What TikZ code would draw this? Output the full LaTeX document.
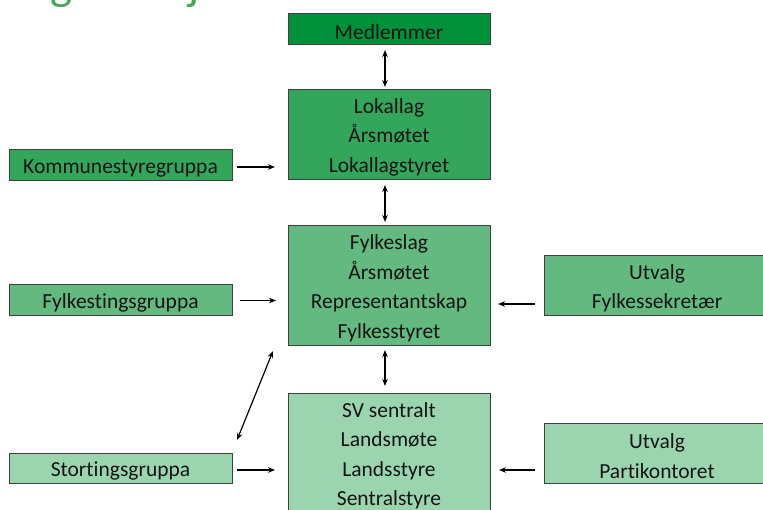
\documentclass[tikz,border=0pt]{standalone}
\usepackage{fontspec}
\setmainfont{Carlito}[Ligatures=NoCommon]
\usetikzlibrary{arrows.meta}
\definecolor{gA}{RGB}{0,145,58}
\definecolor{gB}{RGB}{52,166,92}
\definecolor{gC}{RGB}{99,185,127}
\definecolor{gD}{RGB}{155,213,175}
\definecolor{titlegreen}{RGB}{76,163,92}
\definecolor{edgegray}{RGB}{64,64,64}
\definecolor{ink}{RGB}{20,20,20}
\newcommand\lowertext{\rule{0pt}{21.5pt}}
\begin{document}
\begin{tikzpicture}[x=1pt,y=-1pt,
  box/.style={draw=edgegray,line width=1pt,inner sep=0pt,outer sep=0pt,align=center,
    font=\fontsize{21.5}{29.5}\selectfont,text=ink},
  tip/.tip={Stealth[length=7pt,width=5.5pt]},
  link/.style={line width=1.2pt,-tip},
  both/.style={line width=1.2pt,tip-tip}]
\useasboundingbox (0,0) rectangle (763,509);
\clip (0,0) rectangle (763,509);
% title (cut off at the top)
\node[anchor=base west,inner sep=0pt,text=titlegreen,font=\fontsize{47}{50}\selectfont] (title) at (3,-1) {Organisasjon};
% boxes
\node[box,fill=gA,minimum width=202pt,minimum height=31pt] (m) at (389,28.5) {\lowertext Medlemmer};
\node[box,fill=gB,minimum width=202pt,minimum height=90pt] (l) at (389,134) {\lowertext Lokallag\\Årsmøtet\\Lokallagstyret};
\node[box,fill=gB,minimum width=223pt,minimum height=31pt] (k) at (120.5,164.5) {\lowertext Kommunestyregruppa};
\node[box,fill=gC,minimum width=202pt,minimum height=120pt] (fy) at (389,285) {\lowertext Fylkeslag\\Årsmøtet\\Representantskap\\Fylkesstyret};
\node[box,fill=gC,minimum width=223pt,minimum height=31pt] (ft) at (120.5,299.5) {\lowertext Fylkestingsgruppa};
\node[box,fill=gC,minimum width=226pt,minimum height=60pt] (uf) at (657,285) {\lowertext Utvalg\\Fylkessekretær};
\node[box,fill=gD,minimum width=202pt,minimum height=119pt] (sv) at (389,452.5) {\lowertext SV sentralt\\Landsmøte\\Landsstyre\\Sentralstyre};
\node[box,fill=gD,minimum width=223pt,minimum height=30pt] (st) at (120.5,468) {\lowertext Stortingsgruppa};
\node[box,fill=gD,minimum width=226pt,minimum height=60pt] (up) at (657,453) {\lowertext Utvalg\\Partikontoret};
% connectors
\draw[both,shorten <=6pt,shorten >=2pt] ([xshift=-4pt]m.south) -- ([xshift=-4pt]l.north);
\draw[both,shorten <=6pt,shorten >=3pt] ([xshift=-4pt]l.south) -- ([xshift=-4pt]fy.north);
\draw[both,shorten <=5pt,shorten >=7pt] ([xshift=-4pt]fy.south) -- ([xshift=-4pt]sv.north);
\draw[link,shorten <=5pt,shorten >=13pt] ([yshift=-2.5pt]k.east) -- ([yshift=-2.5pt]k.east -| l.west);
\draw[link,shorten <=8pt,shorten >=12pt] ([yshift=-1pt]ft.east) -- ([yshift=-1pt]ft.east -| fy.west);
\draw[link,shorten <=5pt,shorten >=13pt] ([yshift=-2pt]st.east) -- ([yshift=-2pt]st.east -| sv.west);
\draw[link,shorten <=9pt,shorten >=8pt] ([yshift=-19pt]uf.west) -- ([yshift=-19pt]uf.west -| fy.east);
\draw[link,shorten <=9pt,shorten >=9pt] ([yshift=-17pt]up.west) -- ([yshift=-17pt]up.west -| sv.east);
\draw[both] ([shift={(-15,6)}]fy.south west) -- ([shift={(5,-13)}]st.north east);
\end{tikzpicture}
\end{document}
